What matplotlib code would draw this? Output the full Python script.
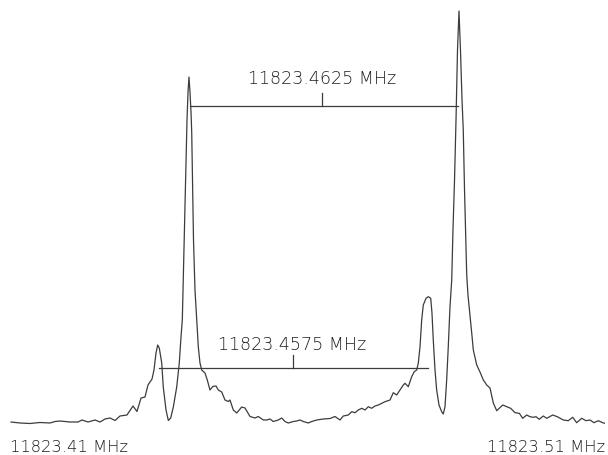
import numpy as np
import matplotlib
matplotlib.use("Agg")
import matplotlib.pyplot as plt

# Frequency offset from 11823.41 MHz, in kHz
freq_khz = [0.17, 1.68, 3.36, 5.04, 6.72, 7.56, 8.40, 10.08, 11.43, 12.10, 13.11, 14.29, 15.13,
            15.97, 16.81, 17.65, 18.49, 19.66, 20.67, 21.34, 22.02, 22.69, 23.19, 23.87, 24.20,
            24.54, 24.82, 25.09, 25.50, 25.76, 26.22, 26.61, 27.01, 27.45, 28.02, 28.45, 28.74,
            28.96, 29.24, 29.53, 29.75, 29.92, 30.08, 30.25, 30.42, 30.54, 30.64, 30.84, 31.09,
            31.38, 31.65, 31.93, 32.22, 32.77, 33.16, 33.61, 34.07, 34.62, 35.01, 35.58, 36.13,
            36.69, 36.97, 37.53, 38.10, 38.94, 39.50, 40.34, 41.18, 41.73, 42.57, 43.14, 43.70,
            44.25, 45.09, 45.66, 46.22, 46.77, 47.61, 48.18, 48.74, 49.29, 50.13, 50.71, 51.55,
            52.66, 53.78, 54.62, 55.46, 56.02, 56.86, 57.43, 57.98, 58.54, 59.11, 59.66, 60.22,
            60.79, 61.34, 61.90, 62.47, 63.03, 63.87, 64.42, 64.99, 65.55, 66.10, 66.39, 66.94,
            67.51, 67.95, 68.35, 68.62, 68.91, 69.19, 69.46, 69.92, 70.30, 70.71, 70.92, 71.14,
            71.43, 71.71, 72.10, 72.55, 72.82, 73.11, 73.39, 73.66, 73.95, 74.24, 74.45, 74.71,
            74.96, 75.21, 75.46, 75.71, 75.97, 76.18, 76.39, 76.76, 76.97, 77.31, 77.60, 77.87,
            78.44, 78.99, 79.55, 80.12, 80.67, 81.23, 81.80, 82.24, 82.82, 83.48, 84.15, 84.87,
            85.60, 86.17, 86.84, 87.39, 87.95, 88.40, 88.96, 89.63, 90.20, 91.21, 91.98, 92.99,
            93.83, 94.57, 95.24, 96.08, 96.81, 97.48, 98.15, 98.87, 99.61, 100.0]

# Signal intensity (arbitrary units)
intensity = [8, 7, 6.5, 7.5, 7, 8.5, 9, 8, 8, 10, 8, 10, 8,
             11, 12, 9.5, 14, 15, 24, 18.5, 32, 33, 45, 51, 60,
             77, 85, 82, 67, 43, 20, 9.5, 12, 23, 43, 67, 93,
             110, 180, 250, 310, 338, 353, 338, 318, 298, 260, 190, 140,
             110, 83, 67, 60, 57, 50, 40, 43.5, 44, 40, 38, 30,
             28.5, 30, 20, 17, 23, 22, 13.5, 12, 13.5, 10, 10, 11,
             8.5, 10, 12, 8.5, 7, 8.5, 9, 10, 8.5, 7, 8.5, 10,
             11, 11.5, 13.5, 10, 14, 15, 18.3, 17.3, 20, 21.7, 20, 23.3,
             21.7, 24, 25, 26.7, 28.3, 30, 37.3, 35, 40, 45, 46.7, 43.3,
             53.3, 58.3, 60, 66.7, 83.3, 110, 125, 131.7, 133.3, 131.7, 117, 90,
             60, 40, 25, 18.3, 16, 23.3, 50, 83.3, 123.3, 150, 200, 250,
             310, 380, 419, 380, 330, 300, 240, 155, 135, 115, 97, 80,
             65, 58, 50, 45, 42, 27, 19.3, 21.7, 25, 23.3, 21.7, 17.3,
             16.7, 11.7, 15, 13.3, 12.7, 13.3, 10.7, 14, 11.7, 15, 13.3, 10,
             9.3, 12.7, 7.3, 11.7, 9.3, 10, 7.3, 9.3, 7.3, 6.7]

end_labels = ["11823.41 MHz", "11823.51 MHz"]
doublet_labels = ["11823.4625 MHz", "11823.4575 MHz"]
doublet_centers_khz = [52.5, 47.5]
# bracket endpoints (kHz) and bracket heights (a.u.)
bracket_ends = [(30.25, 75.34), (25.09, 70.30)]
bracket_levels = [324, 61.7]
tick_height = [13.3, 13.3]
label_levels = [351, 85]

ink = "#3c3c3c"
txt = "#1e1e1e"

fig = plt.figure(figsize=(6.08, 4.55), dpi=100)
ax = fig.add_axes([10 / 608, 25 / 455, 595 / 608, 430 / 455])
ax.plot(freq_khz, intensity, color=ink, lw=0.9)
ax.set_xlim(0, 100)
ax.set_ylim(0, 430)
ax.axis("off")

for (x0, x1), lev, c, th, lab, ly in zip(bracket_ends, bracket_levels, doublet_centers_khz,
                                         tick_height, doublet_labels, label_levels):
    ax.plot([x0, x1], [lev, lev], color=ink, lw=0.9)
    ax.plot([c, c], [lev, lev + th], color=ink, lw=0.9)
    ax.text(c, ly, lab, ha="center", va="center", fontsize=12.6, color=txt,
            family="DejaVu Sans", fontweight="light")

fig.text(10 / 608, 1 - 447.5 / 455, end_labels[0], ha="left", va="center",
         fontsize=11.8, color=txt, family="DejaVu Sans", fontweight="light")
fig.text(605 / 608, 1 - 447.5 / 455, end_labels[1], ha="right", va="center",
         fontsize=11.8, color=txt, family="DejaVu Sans", fontweight="light")

fig.savefig("out.png", dpi=100, facecolor="white")
